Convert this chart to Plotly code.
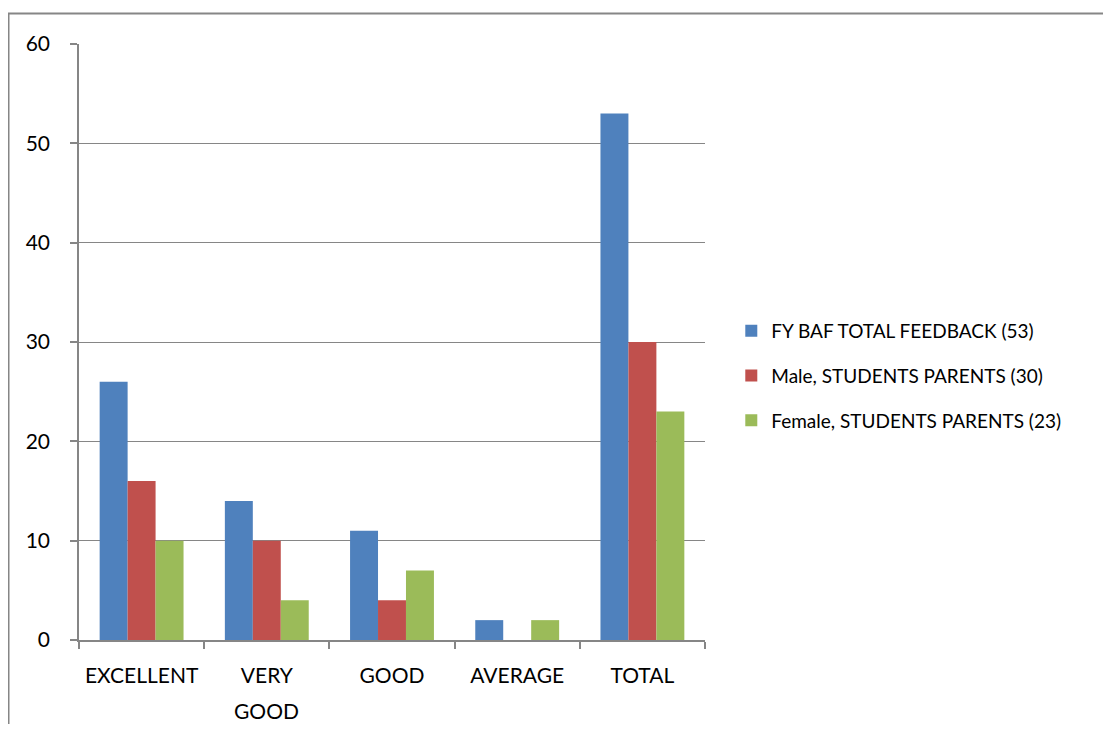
import plotly.graph_objects as go

categories = ["EXCELLENT", "VERY GOOD", "GOOD", "AVERAGE", "TOTAL"]
tick_labels = ["EXCELLENT", "VERY", "GOOD", "AVERAGE", "TOTAL"]
series_names = [
    "FY BAF TOTAL FEEDBACK (53)",
    "Male, STUDENTS PARENTS (30)",
    "Female, STUDENTS PARENTS (23)",
]
total_feedback = [26, 14, 11, 2, 53]
male_parents = [16, 10, 4, 0, 30]
female_parents = [10, 4, 7, 2, 23]
colors = ["#4F81BD", "#C0504D", "#9BBB59"]

fig = go.Figure()

# one bar trace per series
for i, (name, vals) in enumerate(zip(series_names, [total_feedback, male_parents, female_parents])):
    fig.add_trace(go.Bar(
        x=categories,
        y=vals,
        name=name,
        marker=dict(color=colors[i], line=dict(width=0)),
        legendgroup=str(i),
    ))

# second line of the wrapped "VERY GOOD" label (wider line spacing than <br>)
fig.add_annotation(
    x=categories[1], xref="x", y=0, yref="paper",
    text="GOOD", showarrow=False,
    yanchor="middle", yshift=-70,
    font=dict(size=21),
)

# outer chart border (runs off the page on right/bottom)
fig.add_shape(
    type="rect", xref="paper", yref="paper",
    x0=-0.1126, x1=1.7, y0=-0.2, y1=1.0512,
    line=dict(color="#868686", width=2),
    fillcolor="rgba(0,0,0,0)",
    layer="below",
)

# page body has an 8px margin, so margins are trimmed to keep the plot in place
fig.update_layout(
    width=1095,
    height=716,
    margin=dict(l=71, r=398, t=36, b=84),
    barmode="group",
    bargap=0.33,
    bargroupgap=0,
    plot_bgcolor="white",
    paper_bgcolor="white",
    font=dict(family="Lato, Noto Sans, sans-serif", size=21, color="black"),
    xaxis=dict(
        tickmode="array",
        tickvals=categories,
        ticktext=tick_labels,
        showgrid=False,
        showline=True,
        linecolor="#868686",
        linewidth=1.5,
        ticks="outside",
        tickson="boundaries",
        ticklen=7,
        tickcolor="#868686",
        tickwidth=1.5,
        ticklabelstandoff=16,
    ),
    yaxis=dict(
        range=[0, 60],
        dtick=10,
        showgrid=True,
        gridcolor="#868686",
        gridwidth=1,
        showline=True,
        linecolor="#868686",
        linewidth=1.5,
        ticks="outside",
        ticklen=7,
        tickcolor="#868686",
        tickwidth=1.5,
        zeroline=False,
        ticklabelstandoff=16,
    ),
    legend=dict(
        x=1.042,
        y=0.443,
        xanchor="left",
        yanchor="middle",
        font=dict(size=19),
        tracegroupgap=17,
        itemwidth=30,
        bgcolor="rgba(0,0,0,0)",
    ),
    showlegend=True,
)

fig.write_html("out.html")
